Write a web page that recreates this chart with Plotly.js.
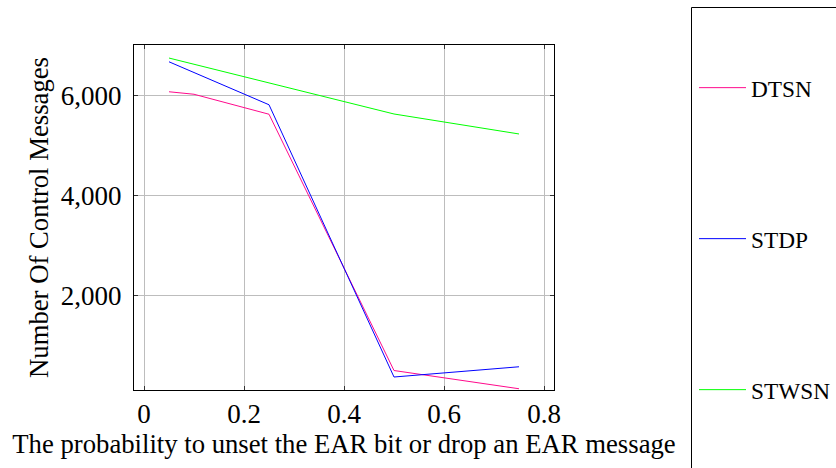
<!DOCTYPE html>
<html>
<head>
<meta charset="utf-8">
<script src="https://cdn.plot.ly/plotly-3.0.1.min.js"></script>
<style>html,body{margin:0;padding:0;background:#fff;}</style>
</head>
<body>
<div id="chart" style="width:836px;height:468px;"></div>
<script>
const seriesNames = ["DTSN", "STDP", "STWSN"];
const dtsnX = [0.05, 0.1, 0.25, 0.5, 0.75];
const dtsnY = [6070, 6020, 5620, 490, 125];
const stdpX = [0.05, 0.25, 0.5, 0.75];
const stdpY = [6670, 5810, 360, 565];
const stwsnX = [0.05, 0.25, 0.5, 0.75];
const stwsnY = [6745, 6250, 5625, 5225];
const xTickVals = [0, 0.2, 0.4, 0.6, 0.8];
const xTickText = ["0", "0.2", "0.4", "0.6", "0.8"];
const yTickVals = [2000, 4000, 6000];
const yTickText = ["2,000", "4,000", "6,000"];

const FONT = "Liberation Serif, Times New Roman, serif";
const TICKFS = 27;
const TFS = 26.7;
const LFS = 23.3;
const colors = ["#ff0a8c", "#0000ff", "#00ff00"];

const ml = 134, mr = 282, mt = 45, mb = 78;
const pw = 836 - ml - mr, ph = 468 - mt - mb;
const px = v => (v - ml) / pw;
const py = v => 1 - (v - mt) / ph;

const xs = [dtsnX, stdpX, stwsnX];
const ys = [dtsnY, stdpY, stwsnY];
const legendIds = ["legend", "legend2", "legend3"];
const legendYpx = [88, 239, 390];

const traces = seriesNames.map((n, i) => ({
  x: xs[i], y: ys[i], name: n, type: "scatter", mode: "lines",
  line: {color: colors[i], width: 1},
  legend: legendIds[i]
}));

const legendBase = {
  font: {family: FONT, size: LFS, color: "#000"},
  bgcolor: "rgba(0,0,0,0)", borderwidth: 0,
  xanchor: "left", yanchor: "middle", itemwidth: 47
};

const layout = {
  width: 836, height: 468,
  margin: {l: ml, r: mr, t: mt, b: mb, pad: 0, autoexpand: false},
  paper_bgcolor: "#fff", plot_bgcolor: "#fff",
  font: {family: FONT, size: TICKFS, color: "#000"},
  showlegend: true,
  xaxis: {
    range: [-0.02, 0.82], tickvals: xTickVals, ticktext: xTickText,
    showline: true, linecolor: "#000", linewidth: 1, mirror: "allticks",
    ticks: "inside", ticklen: 4, tickcolor: "#333",
    showgrid: true, gridcolor: "#bdbdbd", gridwidth: 1, zeroline: false,
    tickfont: {family: FONT, size: TICKFS, color: "#000"},
    title: {text: "The probability to unset the EAR bit or drop an EAR message", font: {family: FONT, size: TFS, color: "#000"}, standoff: 2}
  },
  yaxis: {
    range: [100, 7006], tickvals: yTickVals, ticktext: yTickText,
    showline: true, linecolor: "#000", linewidth: 1, mirror: "allticks",
    ticks: "inside", ticklen: 4, tickcolor: "#333",
    ticklabelstandoff: 6,
    showgrid: true, gridcolor: "#bdbdbd", gridwidth: 1, zeroline: false,
    tickfont: {family: FONT, size: TICKFS, color: "#000"},
    title: {text: "Number Of Control Messages", font: {family: FONT, size: TFS, color: "#000"}, standoff: 4}
  },
  legend: Object.assign({}, legendBase, {x: px(694), y: py(legendYpx[0])}),
  legend2: Object.assign({}, legendBase, {x: px(694), y: py(legendYpx[1])}),
  legend3: Object.assign({}, legendBase, {x: px(694), y: py(legendYpx[2])}),
  shapes: [{
    type: "rect", xref: "paper", yref: "paper",
    x0: px(691.5), x1: px(900), y0: py(7.5), y1: py(520),
    line: {color: "#000", width: 1}, fillcolor: "rgba(0,0,0,0)", layer: "above"
  }]
};

Plotly.newPlot("chart", traces, layout, {displayModeBar: false, staticPlot: true});
</script>
</body>
</html>
